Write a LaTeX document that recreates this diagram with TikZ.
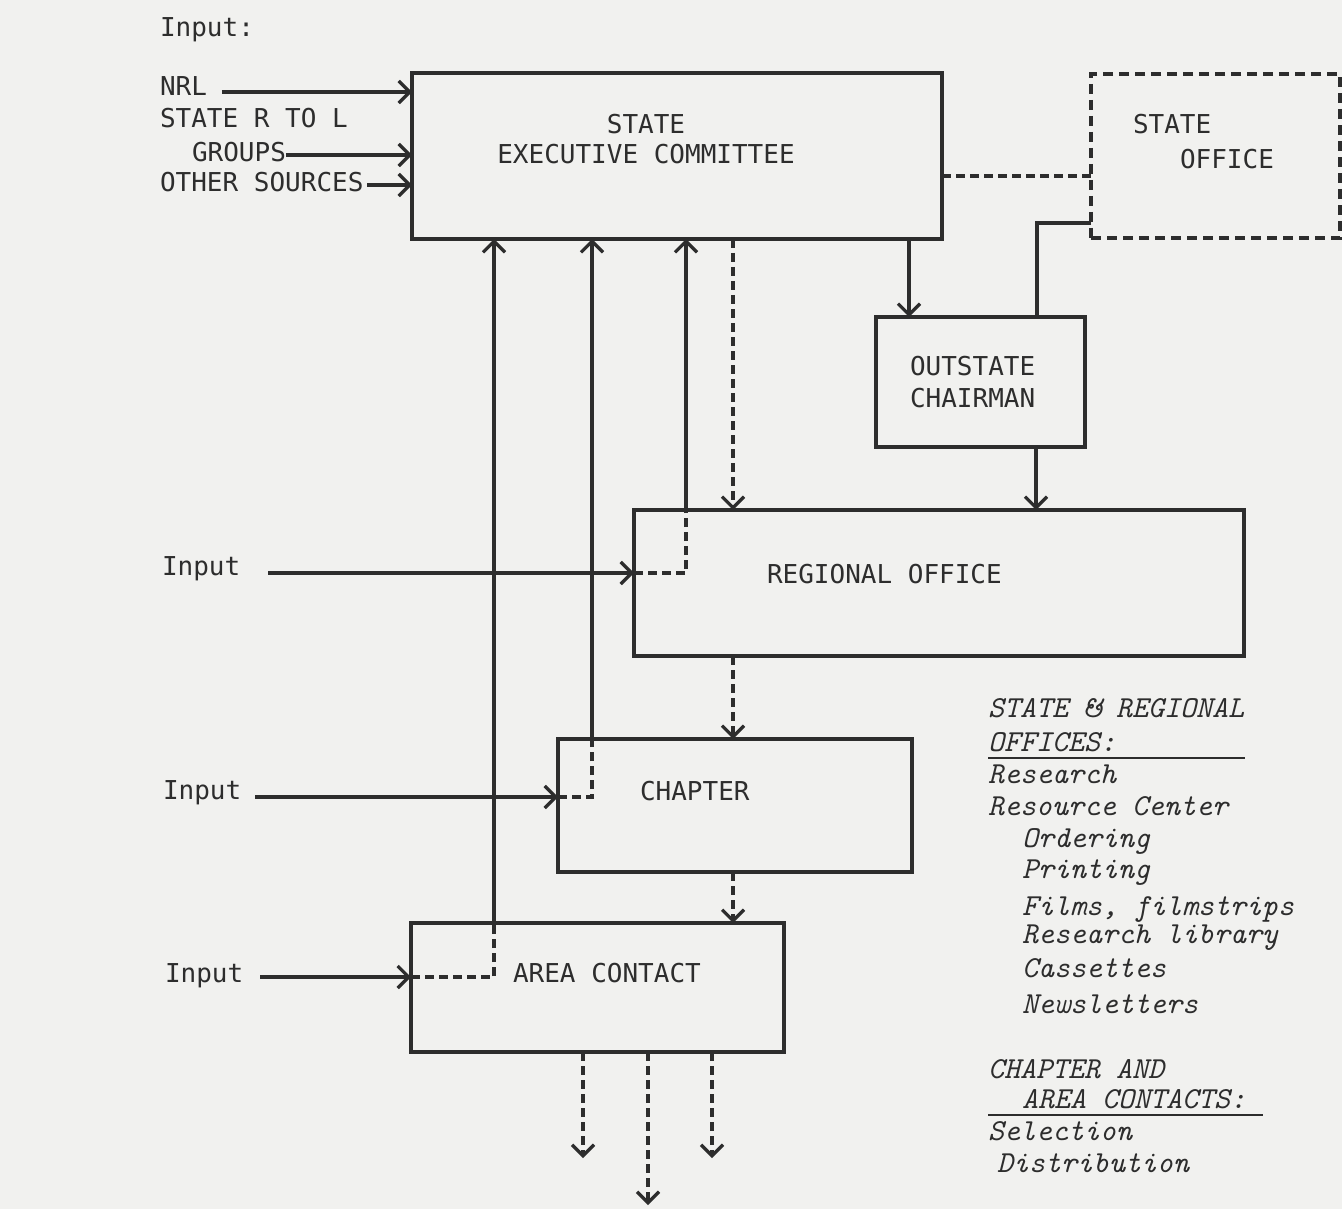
\documentclass[tikz,border=0pt]{standalone}
\usepackage{fontspec}
\newfontfamily\typew{DejaVu Sans Mono}
\usetikzlibrary{arrows.meta,calc}
\definecolor{ink}{RGB}{45,45,45}
\definecolor{paper}{RGB}{241,241,239}
\begin{document}
\begin{tikzpicture}[x=1pt,y=-1pt,
  every node/.style={inner sep=0pt,outer sep=0pt,text=ink},
  lab/.style={font=\typew\fontsize{26}{30}\selectfont,anchor=base west},
  note/.style={font=\ttfamily\itshape\fontsize{30.5}{34}\selectfont,anchor=base west},
  box/.style={draw=ink,line width=3.2pt,rectangle},
  dbox/.style={box,dash pattern=on 10pt off 6pt},
  ln/.style={draw=ink,line width=3.2pt},
  arr/.style={ln,-{Straight Barb[length=11pt,width=22pt]}},
  dsh/.style={ln,dash pattern=on 9pt off 5pt},
  darr/.style={dsh,-{Straight Barb[length=11pt,width=22pt]}}]
\fill[paper] (0,0) rectangle (1342,1209);
\useasboundingbox (0,0) rectangle (1342,1209);

% boxes
\node[box,minimum width=530pt,minimum height=166pt] (sec) at (677,156) {};
\node[dbox,minimum width=249pt,minimum height=164pt] (soff) at (1215.5,156) {};
\node[box,minimum width=209pt,minimum height=130pt] (outst) at (980.5,382) {};
\node[box,minimum width=610pt,minimum height=146pt] (reg) at (939,583) {};
\node[box,minimum width=354pt,minimum height=133pt] (chap) at (735,805.5) {};
\node[box,minimum width=373pt,minimum height=129pt] (area) at (597.5,987.5) {};

% box labels
\node[lab,anchor=base] (secA) at (646,134) {STATE};
\node[lab,anchor=base] (secB) at (646,164) {EXECUTIVE COMMITTEE};
\node[lab] (soffA) at (1133,134) {STATE};
\node[lab] (soffB) at (1180,169) {OFFICE};
\node[lab] (outA) at (910,375) {OUTSTATE};
\node[lab] (outB) at (910,407) {CHAIRMAN};
\node[lab] (regL) at (767,583) {REGIONAL OFFICE};
\node[lab] (chapL) at (640,800) {CHAPTER};
\node[lab] (areaL) at (513,982) {AREA CONTACT};

% inputs
\node[lab] (inp) at (160,37) {Input:};
\node[lab] (nrl) at (160,96) {NRL};
\node[lab] (srl) at (160,128) {STATE R TO L};
\node[lab] (grp) at (192,162) {GROUPS};
\node[lab] (oth) at (160,192) {OTHER SOURCES};
\node[lab] (in1) at (162,575) {Input};
\node[lab] (in2) at (163,799) {Input};
\node[lab] (in3) at (165,982) {Input};

% right-hand notes
\node[note] (n1) at (988,717) {STATE \& REGIONAL};
\node[note] (n2) at (988,751) {OFFICES:};
\node[note] (n3) at (988,783) {Research};
\node[note] (n4) at (988,815) {Resource Center};
\node[note] (n5) at (1022,847) {Ordering};
\node[note] (n6) at (1022,878) {Printing};
\node[note] (n7) at (1022,915) {Films, filmstrips};
\node[note] (n8) at (1022,943) {Research library};
\node[note] (n9) at (1022,977) {Cassettes};
\node[note] (n10) at (1022,1013) {Newsletters};
\node[note] (n11) at (988,1078) {CHAPTER AND};
\node[note] (n12) at (1022,1108) {AREA CONTACTS:};
\node[note] (n13) at (988,1140) {Selection};
\node[note] (n14) at (997,1172) {Distribution};
\draw[ln,line width=2.6pt] (n2.base west |- 0,758) -- (1245,758);
\draw[ln,line width=2.6pt] (n11.base west |- 0,1115) -- (1263,1115);

% helper coordinates
\coordinate (vA) at (494,0);
\coordinate (vB) at (592,0);
\coordinate (vC) at (686,0);
\coordinate (vD) at (733,0);

% inputs to state executive committee
\coordinate (a1) at ($(nrl.base east)+(15,-4)$);
\coordinate (a2) at ($(grp.base east)+(0,-7)$);
\coordinate (a3) at ($(oth.base east)+(4,-7)$);
\draw[arr] (a1) -- (a1 -| sec.west);
\draw[arr] (a2) -- (a2 -| sec.west);
\draw[arr] (a3) -- (a3 -| sec.west);

% state exec <-> state office <-> outstate chairman
\coordinate (s1) at ([yshift=-20pt]sec.east);
\draw[dsh] (s1) -- (s1 -| soff.west);
\coordinate (s2) at ([yshift=-67pt]soff.west);
\coordinate (s3) at ([xshift=56.5pt]outst.north);
\draw[ln] (s2) -| (s3);
\coordinate (s4) at ([xshift=-71.5pt]outst.north);
\draw[arr] (s4 |- sec.south) -- (s4);
\coordinate (s5) at ([xshift=55.5pt]outst.south);
\draw[arr] (s5) -- (s5 |- reg.north);

% downward chain
\draw[darr] (vD |- sec.south) -- (vD |- reg.north);
\draw[darr] (vD |- reg.south) -- (vD |- chap.north);
\draw[darr] (vD |- chap.south) -- (vD |- area.north);

% regional input
\coordinate (i1) at ($(in1.base east)+(28,-2)$);
\draw[arr] (i1) -- (i1 -| reg.west);
\draw[dsh] (i1 -| reg.west) -| (vC |- reg.north);
\draw[arr] (vC |- reg.north) -- (vC |- sec.south);

% chapter input
\coordinate (i2) at ($(in2.base east)+(14,-2)$);
\draw[arr] (i2) -- (i2 -| chap.west);
\draw[dsh] (i2 -| chap.west) -| (vB |- chap.north);
\draw[arr] (vB |- chap.north) -- (vB |- sec.south);

% area input
\coordinate (i3) at ($(in3.base east)+(17,-5)$);
\draw[arr] (i3) -- (i3 -| area.west);
\draw[dsh] (i3 -| area.west) -| (vA |- area.north);
\draw[arr] (vA |- area.north) -- (vA |- sec.south);

% outputs
\coordinate (o1) at (583,1158);
\coordinate (o2) at (648,1205);
\coordinate (o3) at (712,1158);
\draw[darr] (o1 |- area.south) -- (o1);
\draw[darr] (o2 |- area.south) -- (o2);
\draw[darr] (o3 |- area.south) -- (o3);
\end{tikzpicture}
\end{document}
